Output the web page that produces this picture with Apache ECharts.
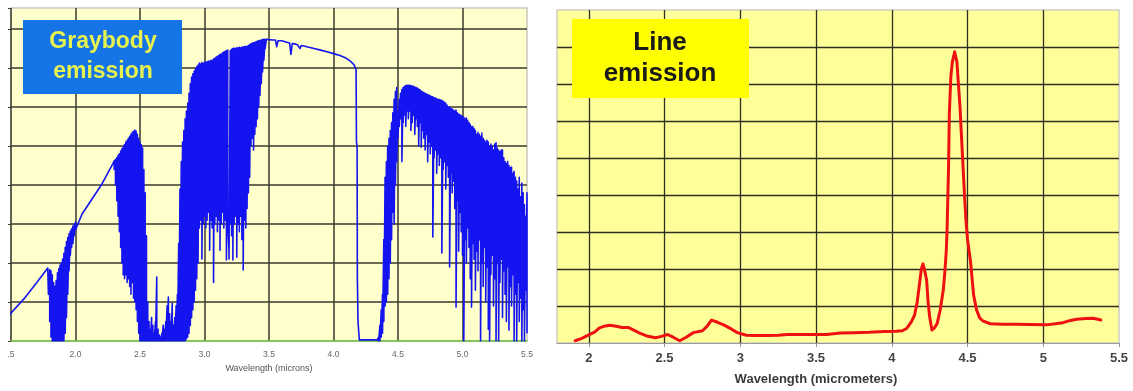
<!DOCTYPE html>
<html><head><meta charset="utf-8">
<script src="https://cdn.jsdelivr.net/npm/echarts@6/dist/echarts.min.js"></script>
<style>html,body{margin:0;padding:0;background:#fff}#c{width:1133px;height:391px}</style>
</head><body><div id="c"></div>
<script>
// ---------- Left panel: graybody emission (wavelength in microns) ----------
const leftTicks = [1.5, 2.0, 2.5, 3.0, 3.5, 4.0, 4.5, 5.0, 5.5];
const blueSmooth1 = [[1.49,0.68],[1.60,1.08],[1.70,1.50],[1.75,1.72],[1.785,1.87]];
const waveA  = [1.79,1.80,1.81,1.82,1.83,1.84,1.85,1.86,1.87,1.88,1.89,1.90,1.91,1.92,1.93,1.94,1.95,1.96,1.97,1.98,1.99,2.00];
const upperA = [1.86,1.83,1.8,1.7,1.5,1.4,1.55,1.75,1.85,1.95,2.0,2.1,2.25,2.4,2.55,2.65,2.75,2.82,2.88,2.95,3.0,3.05];
const lowerA = [1.2,0.5,0.1,0,0,0,0,0,0,0,0,0,0,0.2,0.6,1.2,1.8,2.2,2.4,2.5,2.7,2.85];
const blueSmooth2 = [[2.05,3.25],[2.10,3.5],[2.20,4.0],[2.29,4.55]];
const waveB  = [2.30,2.31,2.32,2.33,2.34,2.35,2.36,2.37,2.38,2.39,2.40,2.41,2.42,2.43,2.44,2.45,2.46,2.47,2.48,2.49,2.50,2.51,2.52,2.53,2.54,2.55,2.56];
const upperB = [4.62,4.66,4.7,4.76,4.8,4.87,4.93,4.98,5.04,5.1,5.15,5.2,5.25,5.3,5.35,5.38,5.41,5.38,5.3,5.2,5.1,5.03,4.95,4.4,3.8,2.7,1.0];
const lowerB = [4.4,4.0,3.6,3.2,2.8,2.4,2.0,1.7,1.6,1.7,1.5,1.6,1.4,1.2,1.5,1.1,1.0,0.8,0.5,0.2,0,0,0,0,0,0,0];
const waveC  = [2.57,2.58,2.59,2.60,2.61,2.62,2.63,2.64,2.65,2.66,2.67,2.68,2.69,2.70,2.71,2.72,2.73,2.74,2.75,2.76,2.77,2.78];
const upperC = [0.5,0.3,0.6,0.4,0.2,0.5,1.64,0.3,0.15,0.1,0.2,0.4,0.3,0.5,0.9,1.13,0.7,0.5,0.97,0.4,0.6,0.9];
const lowerC = [0,0,0,0,0,0,0,0,0,0,0,0,0,0,0,0,0,0,0,0,0,0];
const waveD  = [2.79,2.80,2.81,2.82,2.83,2.84,2.85,2.86,2.87,2.88,2.89,2.90,2.91,2.92,2.93,2.94,2.95,2.96,2.97,2.98,2.99,3.00,3.01,3.02,3.03,3.04,3.05,3.06,3.07,3.08,3.09,3.10,3.11,3.12,3.13,3.14,3.15,3.16,3.17,3.18,3.19,3.20,3.21,3.22,3.23,3.24,3.25,3.26,3.27,3.28,3.29,3.30,3.31,3.32,3.33,3.34,3.35,3.36,3.37,3.38,3.39,3.40,3.41,3.42,3.43,3.44,3.45,3.46,3.47];
const upperD = [1.2,2.5,3.9,4.6,5.1,5.4,5.7,5.9,6.1,6.35,6.6,6.77,6.85,6.92,6.98,7.03,7.08,7.13,7.1,7.14,7.12,7.15,7.15,7.16,7.18,7.17,7.2,7.2,7.23,7.25,7.28,7.3,7.32,7.35,7.36,7.39,7.41,7.43,7.45,7.46,2.3,7.45,7.48,7.5,7.51,7.5,7.52,7.52,7.53,7.52,7.54,7.54,7.55,7.55,7.56,7.58,7.6,7.62,7.64,7.65,7.66,7.67,7.69,7.7,7.71,7.72,7.73,7.74,7.74];
const lowerD = [0,0,0,0,0,0,0,0.05,0.1,0.2,0.4,0.6,0.8,1.0,1.3,1.6,2.0,2.9,3.1,2.1,3.0,3.2,2.9,3.1,3.3,2.33,3.1,2.9,1.5,3.0,3.2,2.8,3.1,2.33,3.0,3.3,2.9,3.1,2.08,3.0,2.1,3.0,2.7,2.08,3.0,3.2,2.15,3.0,2.8,3.2,2.6,1.82,3.1,2.9,3.4,3.8,4.2,5.0,5.2,4.9,5.3,5.5,5.7,6.0,6.3,6.6,6.9,7.2,7.5];
const blueSmooth3 = [[3.48,7.74],[3.50,7.73],[3.53,7.72],[3.55,7.72],[3.56,7.55],[3.57,7.7],[3.60,7.7],[3.63,7.67],[3.66,7.64],[3.67,7.35],[3.68,7.63],[3.70,7.62],[3.72,7.6],[3.74,7.5],[3.75,7.58],[3.78,7.56],[3.80,7.54],[3.85,7.5],[3.90,7.46],[3.95,7.42],[4.00,7.37],[4.05,7.32],[4.10,7.25],[4.13,7.18],[4.16,7.08],[4.175,6.95],[4.178,5.1],[4.183,5.0],[4.185,1.6],[4.19,0.5],[4.20,0.03],[4.34,0.03]];
const waveF  = [4.35,4.36,4.37,4.38,4.39,4.40,4.41,4.42,4.43,4.44,4.45,4.46,4.47,4.48,4.49,4.50,4.51,4.52,4.53,4.54,4.55,4.56,4.57,4.58,4.59,4.60,4.61,4.62,4.63,4.64,4.65,4.66,4.67,4.68,4.69,4.70,4.71,4.72,4.73,4.74,4.75,4.76,4.77,4.78,4.79,4.80,4.81,4.82,4.83,4.84,4.85,4.86,4.87,4.88,4.89,4.90,4.91,4.92,4.93,4.94,4.95,4.96,4.97,4.98,4.99,5.00,5.01,5.02,5.03,5.04,5.05,5.06,5.07,5.08,5.09,5.10,5.11,5.12,5.13,5.14,5.15,5.16,5.17,5.18,5.19,5.20,5.21,5.22,5.23,5.24,5.25,5.26,5.27,5.28,5.29,5.30,5.31,5.32,5.33,5.34,5.35,5.36,5.37,5.38,5.39,5.40,5.41,5.42,5.43,5.44,5.45,5.46,5.47,5.48,5.49,5.50];
const upperF = [0.1,0.4,0.8,1.2,2.6,4.2,4.6,5.0,5.2,5.4,5.6,5.85,6.2,6.4,6.5,5.9,6.2,6.35,6.45,6.5,6.53,6.55,6.56,6.56,6.56,6.55,6.54,6.53,6.51,6.5,6.49,6.46,6.44,6.41,6.39,6.37,6.35,6.34,6.32,6.31,6.29,6.27,6.26,6.24,6.23,6.21,6.2,6.19,6.18,6.17,6.15,6.12,6.1,6.05,6.0,6.0,5.97,5.95,5.92,5.9,5.92,5.85,5.82,5.8,5.78,5.76,5.74,5.7,5.72,5.66,5.6,5.56,5.5,5.5,5.45,5.4,5.3,5.35,5.3,5.25,5.33,5.2,5.15,5.1,5.15,5.1,5.0,5.05,5.0,4.9,5.05,5.08,4.95,4.9,4.85,4.9,4.9,4.7,4.6,4.55,4.6,4.5,4.45,4.46,4.3,4.35,4.2,4.1,3.9,4.2,3.7,4.05,3.8,3.5,3.2,3.8];
const lowerF = [0,0,0.1,0.2,0.5,0.9,1.0,1.2,1.6,2.0,2.6,3.3,3.0,4.0,4.6,5.2,5.5,5.7,4.6,5.6,5.8,5.5,5.9,5.7,5.9,5.4,5.6,5.8,5.3,5.7,5.5,5.0,5.6,4.97,5.4,5.2,4.9,5.3,4.6,5.1,4.8,5.0,2.67,4.7,4.9,4.3,4.8,4.5,4.7,2.26,4.4,4.6,3.9,4.5,4.2,1.9,4.3,3.8,4.1,3.4,0.87,3.6,2.3,3.3,2.8,2.2,0.0,2.6,2.0,2.9,2.4,1.6,0.87,2.5,2.1,1.3,2.3,1.8,2.6,0.0,2.0,1.4,2.4,1.0,1.9,0.3,0.0,1.7,2.2,0.9,1.6,0.0,2.0,0.0,1.5,2.1,0.6,1.8,1.2,0.5,1.9,0.28,1.4,0.9,1.7,0.0,1.2,0.0,1.5,0.5,1.1,0.0,0.8,0.0,1.3,0.2];

// ---------- Right panel: line emission (wavelength in micrometers) ----------
const redWave  = [1.91,1.95,2.00,2.04,2.07,2.10,2.14,2.18,2.22,2.26,2.30,2.34,2.39,2.44,2.48,2.52,2.56,2.60,2.64,2.69,2.75,2.78,2.81,2.85,2.89,2.94,2.98,3.04,3.10,3.18,3.25,3.31,3.40,3.50,3.57,3.66,3.75,3.85,3.95,4.03,4.07,4.10,4.13,4.15,4.167,4.18,4.195,4.206,4.215,4.23,4.24,4.25,4.265,4.28,4.30,4.32,4.34,4.35,4.36,4.365,4.375,4.38,4.39,4.40,4.415,4.43,4.44,4.45,4.46,4.47,4.48,4.49,4.50,4.51,4.52,4.54,4.56,4.58,4.60,4.65,4.73,4.82,4.91,5.02,5.08,5.13,5.18,5.22,5.28,5.33,5.38];
const redValue = [0.06,0.12,0.22,0.30,0.41,0.45,0.48,0.45,0.42,0.42,0.34,0.26,0.18,0.14,0.18,0.23,0.15,0.06,0.15,0.28,0.33,0.45,0.62,0.56,0.49,0.38,0.28,0.21,0.20,0.20,0.21,0.23,0.23,0.23,0.23,0.27,0.28,0.29,0.31,0.32,0.33,0.40,0.58,0.75,1.08,1.50,2.00,2.14,2.00,1.70,1.10,0.71,0.35,0.40,0.53,0.90,1.43,1.90,2.50,3.05,4.80,6.20,7.20,7.60,7.87,7.60,7.00,6.40,5.60,4.80,4.00,3.30,2.80,2.50,2.20,1.30,0.89,0.68,0.60,0.52,0.51,0.51,0.50,0.49,0.52,0.55,0.61,0.64,0.66,0.67,0.62];

const leftTitle = 'Wavelength (microns)';
const rightTitle = 'Wavelength (micrometers)';

function zig(xs, up, lo) {
  const out = [];
  xs.forEach((x, i) => { out.push([x, up[i]]); out.push([x, lo[i]]); });
  return out;
}
const blueData = [].concat(
  blueSmooth1, zig(waveA, upperA, lowerA), blueSmooth2,
  zig(waveB, upperB, lowerB), zig(waveC, upperC, lowerC),
  zig(waveD, upperD, lowerD), blueSmooth3, zig(waveF, upperF, lowerF)
);
const redData = redWave.map((x, i) => [x, redValue[i]]);

const FONT = '"Liberation Sans", Arial, sans-serif';
const chart = echarts.init(document.getElementById('c'), null, { renderer: 'canvas' });
chart.setOption({
  animation: false,
  backgroundColor: '#ffffff',
  grid: [
    { left: 11, right: 606, top: 8, bottom: 50, show: true, backgroundColor: '#FFFFCC', borderColor: '#c9c9c0', borderWidth: 1.5 },
    { left: 557, right: 14, top: 10, bottom: 48, show: true, backgroundColor: '#FFFF99', borderColor: '#cfcfc4', borderWidth: 1.5 }
  ],
  xAxis: [
    {
      type: 'value', gridIndex: 0, min: 1.5, max: 5.5, interval: 0.5,
      name: leftTitle, nameLocation: 'middle', nameGap: 22,
      nameTextStyle: { fontFamily: FONT, fontSize: 9, color: '#555' },
      axisLine: { show: true, onZero: false, lineStyle: { color: '#6cbf3c', width: 1.5 } },
      axisTick: { show: false },
      axisLabel: { fontFamily: FONT, fontSize: 8.5, color: '#666', margin: 9,
        formatter: v => (v === leftTicks[0] ? '.5' : v.toFixed(1)) },
      splitLine: { show: true, showMaxLine: false, lineStyle: { color: '#3a3a2e', width: 1.5 } }
    },
    {
      type: 'value', gridIndex: 1, min: 1.79, max: 5.5, splitNumber: 7,
      name: rightTitle, nameLocation: 'middle', nameGap: 30,
      nameTextStyle: { fontFamily: FONT, fontSize: 13, fontWeight: 'bold', color: '#3a3a3a', padding: [0, 44, 0, 0] },
      axisLine: { show: true, onZero: false, lineStyle: { color: '#9a9a9a', width: 1 } },
      axisTick: { show: true, length: 4, lineStyle: { color: '#9a9a9a' } },
      axisLabel: { fontFamily: FONT, fontSize: 13, fontWeight: 'bold', color: '#444', margin: 9, showMinLabel: false },
      splitLine: { show: true, showMinLine: false, showMaxLine: false, lineStyle: { color: '#2e2e22', width: 1.3 } }
    }
  ],
  yAxis: [
    {
      type: 'value', gridIndex: 0, min: 0, max: 8.54, interval: 1,
      axisLine: { show: false },
      axisTick: { show: true, length: 3, lineStyle: { color: '#3a3a2e' } },
      axisLabel: { show: false },
      splitLine: { show: true, showMinLine: false, showMaxLine: false, lineStyle: { color: '#3a3a2e', width: 1.5 } }
    },
    {
      type: 'value', gridIndex: 1, min: 0, max: 9, interval: 1,
      axisLine: { show: false }, axisTick: { show: false }, axisLabel: { show: false },
      splitLine: { show: true, showMinLine: false, showMaxLine: false, lineStyle: { color: '#2e2e22', width: 1.3 } }
    }
  ],
  series: [
    {
      type: 'line', xAxisIndex: 0, yAxisIndex: 0, data: blueData,
      showSymbol: false, symbol: 'none', sampling: null, clip: true,
      lineStyle: { color: '#1414f0', width: 1.6, join: 'round' }
    },
    {
      type: 'line', xAxisIndex: 1, yAxisIndex: 1, data: redData,
      showSymbol: false, symbol: 'none', smooth: false,
      lineStyle: { color: '#ee1111', width: 3, join: 'round', cap: 'round' }
    }
  ],
  graphic: [
    { type: 'rect', shape: { x: 23, y: 20, width: 159, height: 74 }, style: { fill: '#1575E6' }, z: 100 },
    { type: 'text', x: 103, y: 57, z: 101,
      style: { text: 'Graybody\nemission', fill: '#E8F24C', font: 'bold 23px ' + FONT,
        align: 'center', verticalAlign: 'middle', textAlign: 'center', textVerticalAlign: 'middle', lineHeight: 30 } },
    { type: 'rect', shape: { x: 572, y: 19, width: 177, height: 79 }, style: { fill: '#FFFF00' }, z: 100 },
    { type: 'text', x: 660, y: 58, z: 101,
      style: { text: 'Line\nemission', fill: '#1a1a1a', font: 'bold 26px ' + FONT,
        align: 'center', verticalAlign: 'middle', textAlign: 'center', textVerticalAlign: 'middle', lineHeight: 31 } }
  ]
});
</script>
</body></html>
